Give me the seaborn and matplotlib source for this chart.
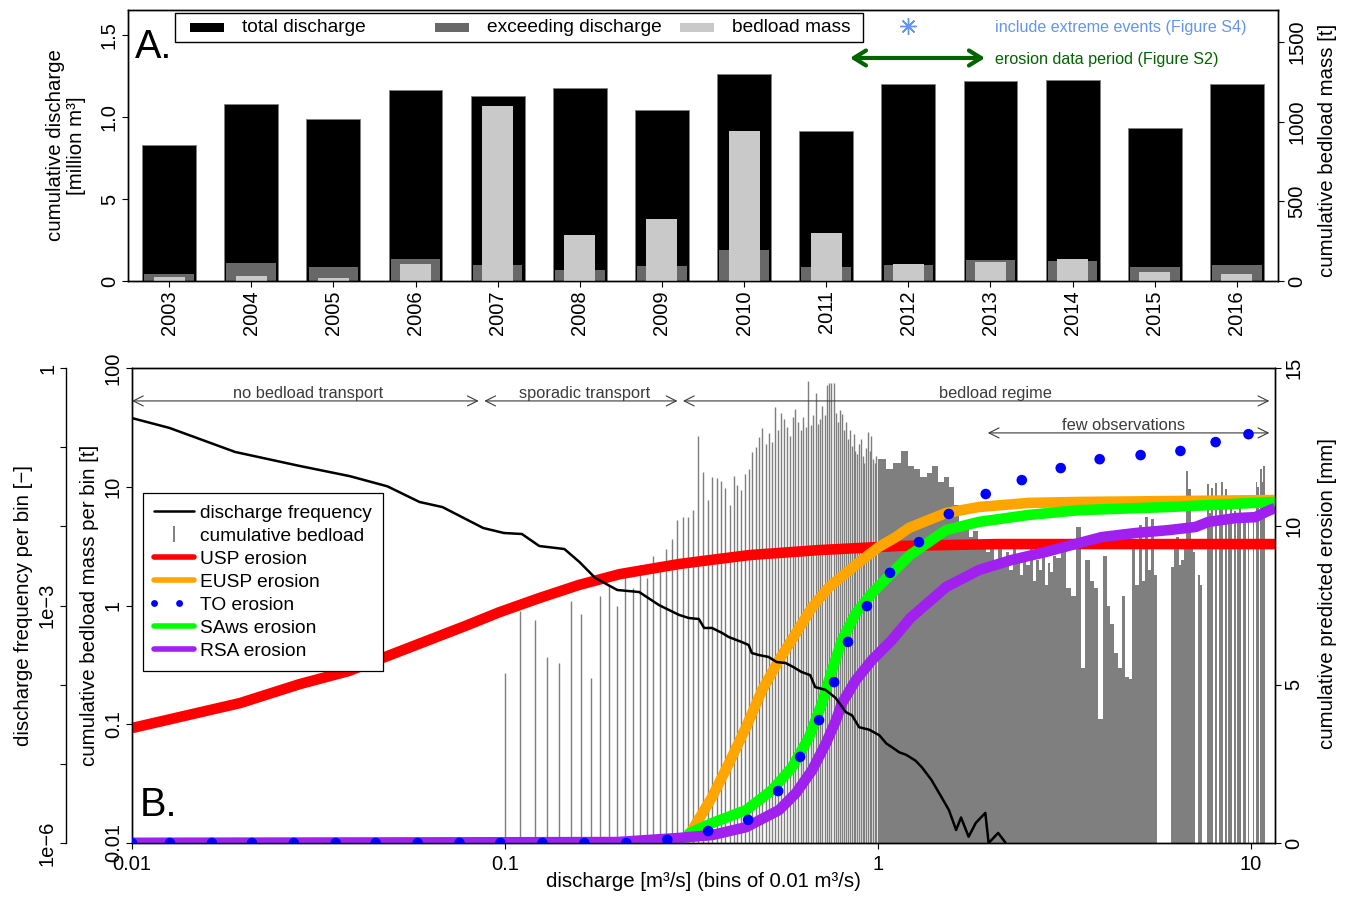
import numpy as np
import matplotlib
matplotlib.use("Agg")
import matplotlib.pyplot as plt
from matplotlib.lines import Line2D
from matplotlib.patches import Rectangle
from matplotlib.ticker import NullLocator
import seaborn as sns

sns.set_style("ticks")
plt.rcParams["font.family"] = ["Liberation Sans", "DejaVu Sans"]
plt.rcParams["font.size"] = 14.5
plt.rcParams["axes.edgecolor"] = "black"
plt.rcParams["axes.linewidth"] = 1.0
for key in ["text.color", "axes.labelcolor", "xtick.color", "ytick.color"]:
    plt.rcParams[key] = "black"

# ---------------- panel A: yearly sums
years = [str(y) for y in range(2003, 2017)]
total_discharge = [0.829, 1.077, 0.990, 1.165, 1.126, 1.179, 1.043, 1.264, 0.916, 1.203, 1.220, 1.224, 0.931, 1.201]
exceeding_discharge = [0.045, 0.108, 0.087, 0.132, 0.098, 0.069, 0.093, 0.187, 0.085, 0.096, 0.128, 0.122, 0.087, 0.099]
bedload_mass = [23, 31, 21, 109, 1097, 287, 389, 940, 299, 109, 119, 140, 55, 42]
extreme_years = ["2007", "2010"]

# ---------------- panel B: discharge bins
# bedload per 0.01 bin, 0.10 ... 0.99 m3/s
fine_q = np.round(np.arange(0.10, 0.995, 0.01), 2)
fine_bedload = [0.27, 0.9, 0.75, 0.37, 0.33, 1.1, 0.85, 0.245, 1.2, 1.5,
                1.0, 1.8, 1.4, 2.2, 1.7, 2.6, 2.0, 3.0, 3.6, 5.2,
                5.6, 5.6, 6.4, 26.7, 13.4, 7.7, 12, 11.8, 11.2, 9.7,
                7.0, 12.2, 10.4, 9.3, 12.8, 14.2, 19.5, 21.7, 26, 31,
                23, 28.5, 24, 47, 30, 41.6, 37, 32, 27, 39,
                45, 35, 30, 39, 32, 78, 33, 40, 61, 34,
                37, 48, 40, 72, 75, 75, 75, 42, 35, 44,
                41, 30, 35, 25, 30, 22, 28, 20, 19, 23,
                25, 18, 16, 21, 29, 20, 26.5, 17, 16, 18]
# coarser reading above 1 m3/s
mid_q = np.round(np.arange(1.0, 2.999, 0.05), 2)
mid_bedload = [17, 14, 16, 20, 15, 14, 12, 13, 15, 11,
               12, 10, 7, 5, 4.5, 3.8, 4.2, 3.0, 3.5, 2.8,
               3.2, 2.4, 3.6, 2.2, 2.8, 2.0, 3.0, 2.5, 1.8, 2.6,
               2.2, 3.2, 1.6, 2.4, 2.0, 2.8, 1.5, 2.3, 1.9, 2.6]
high_q = np.round(np.arange(3.0, 11.15, 0.1), 1)
high_bedload = [2.5, 3.2, 1.4, 1.2, 4.6, 0.3, 2.4, 1.6, 1.4, 0.11,
                2.6, 1.0, 0.7, 0.4, 0.3, 1.2, 0.25, 0.24, 3.0, 1.5,
                4.8, 1.6, 5.6, 2.0, 5.4, 1.8, 0, 0, 0, 0,
                0, 2.1, 3.0, 3.8, 2.2, 2.4, 3.2, 13.5, 9.6, 3.5,
                2.8, 0, 1.8, 1.5, 0, 0, 10.5, 6.0, 9.8, 0,
                10.8, 0, 6.5, 11, 0, 9.6, 0, 5.5, 7, 0,
                6.2, 0, 5.5, 7.5, 0, 6, 5, 0, 5.5, 0,
                0, 6, 0, 11, 10, 0, 14, 11, 15, 0,
                0, 0]

freq_q = [0.01, 0.0126, 0.0189, 0.0281, 0.0384, 0.0484, 0.059, 0.068, 0.0874, 0.0993,
          0.111, 0.1236, 0.1443, 0.1584, 0.1747, 0.200, 0.229, 0.259, 0.293, 0.311,
          0.331, 0.342, 0.359, 0.382, 0.398, 0.431, 0.450, 0.459, 0.479, 0.509,
          0.535, 0.565, 0.593, 0.623, 0.658, 0.679, 0.723, 0.770, 0.820, 0.852,
          0.890, 0.947, 1.008, 1.054, 1.095, 1.14, 1.19, 1.26, 1.31, 1.39,
          1.48, 1.55, 1.62, 1.67, 1.75, 1.83, 1.94, 1.98, 2.1, 2.2, 2.3]
freq = [0.233, 0.175, 0.087, 0.058, 0.043, 0.032, 0.0203, 0.0175, 0.00953, 0.00824,
        0.0080, 0.00564, 0.00517, 0.00354, 0.00222, 0.00157, 0.00148, 0.00101, 7.6e-4, 6.95e-4,
        6.75e-4, 5.2e-4, 5.2e-4, 4.5e-4, 4.0e-4, 3.46e-4, 3.17e-4, 2.51e-4, 2.37e-4, 2.24e-4,
        1.93e-4, 1.88e-4, 1.67e-4, 1.45e-4, 1.32e-4, 9.3e-5, 8.6e-5, 6.8e-5, 4.5e-5, 4.1e-5,
        2.9e-5, 2.7e-5, 2.3e-5, 1.8e-5, 1.6e-5, 1.4e-5, 1.3e-5, 1.1e-5, 9.1e-6, 6.3e-6,
        3.8e-6, 2.6e-6, 1.46e-6, 2.1e-6, 1.2e-6, 1.8e-6, 2.4e-6, 1e-6, 1.34e-6, 1e-6, 4e-7]

usp_q = [0.01, 0.0195, 0.0282, 0.0381, 0.0789, 0.0967, 0.124, 0.158, 0.203, 0.293, 0.45, 0.695, 1.14, 2.11, 11.6]
usp = [3.63, 4.42, 5.02, 5.43, 6.87, 7.29, 7.74, 8.15, 8.49, 8.81, 9.09, 9.25, 9.38, 9.44, 9.44]

eusp_q = [0.01, 0.30, 0.312, 0.359, 0.399, 0.443, 0.489, 0.543, 0.603, 0.666, 0.739,
          0.821, 0.906, 1.006, 1.117, 1.211, 1.521, 1.864, 2.537, 3.453, 11.6]
eusp = [0, 0, 0.25, 1.45, 2.53, 3.66, 4.83, 5.78, 6.63, 7.45, 8.08,
        8.53, 8.94, 9.35, 9.66, 9.95, 10.42, 10.61, 10.74, 10.77, 10.83]

saws_q = [0.01, 0.30, 0.312, 0.359, 0.443, 0.520, 0.589, 0.654, 0.708, 0.753, 0.801,
          0.873, 0.964, 1.090, 1.22, 1.521, 1.864, 2.537, 3.453, 6.01, 11.6]
saws = [0, 0, 0.31, 0.63, 1.04, 1.67, 2.4, 3.35, 4.42, 5.46, 6.41,
        7.26, 7.89, 8.53, 9.1, 9.88, 10.14, 10.36, 10.51, 10.61, 10.77]

rsa_q = [0.01, 0.20, 0.293, 0.359, 0.443, 0.543, 0.603, 0.666, 0.726, 0.772, 0.801,
         0.873, 0.964, 1.090, 1.22, 1.521, 1.864, 2.285, 2.817, 3.453, 3.98, 4.91,
         6.01, 7.10, 7.69, 9.09, 10.28, 10.94, 11.6]
rsa = [0, 0.03, 0.16, 0.25, 0.5, 1.04, 1.58, 2.3, 3.16, 3.88, 4.42,
       5.15, 5.78, 6.41, 7.1, 8.08, 8.62, 8.94, 9.19, 9.47, 9.66, 9.79,
       9.88, 9.98, 10.14, 10.26, 10.29, 10.45, 10.58]

to_q = [0.01, 0.01264, 0.01637, 0.02096, 0.02715, 0.03517, 0.04501, 0.05831, 0.07553, 0.0972,
        0.126, 0.1633, 0.2115, 0.2724, 0.3506, 0.4487, 0.540, 0.6184, 0.695, 0.7625,
        0.831, 0.934, 1.077, 1.288, 1.549, 1.945, 2.43, 3.09, 3.93, 5.06, 6.47, 8.04, 9.85]
to = [0, 0, 0, 0, 0, 0, 0, 0, 0, 0,
      0, 0, 0, 0.1, 0.38, 0.73, 1.64, 2.72, 3.88, 5.08,
      6.35, 7.48, 8.53, 9.5, 10.39, 11.02, 11.46, 11.84, 12.12, 12.25, 12.38, 12.66, 12.91]

# ---------------- figure
W, H = 1348, 899
fig = plt.figure(figsize=(W / 100, H / 100), dpi=100)


def px_box(l, t, r, b):
    return [l / W, 1 - b / H, (r - l) / W, (b - t) / H]


def rotate_ylabels(ax, side="left"):
    ax.tick_params(axis="y", labelrotation=90)
    for t in ax.get_yticklabels():
        t.set_va("center")
        t.set_ha("right" if side == "left" else "left")


GREY_BAR = "#7f7f7f"
TXT = "#3a3a3a"

# ===== panel A
ax_a = fig.add_axes(px_box(128, 10, 1278, 281))
sns.barplot(x=years, y=total_discharge, ax=ax_a, color="black", width=0.655,
            saturation=1, errorbar=None, edgecolor="#808080", linewidth=0.6)
sns.barplot(x=years, y=exceeding_discharge, ax=ax_a, color="#686868", width=0.605,
            saturation=1, errorbar=None, linewidth=0)
ax_a2 = ax_a.twinx()
sns.barplot(x=years, y=bedload_mass, ax=ax_a2, color="#c9c9c9", width=0.378,
            saturation=1, errorbar=None, linewidth=0)

ext_idx = [years.index(y) for y in extreme_years]
ax_a.plot(ext_idx, [0.585] * len(ext_idx), ls="none", marker=(8, 2, 0), ms=12,
          mew=1.0, color="#6495ED", zorder=5)

ax_a.set_xlim(-0.5, 13.5)
ax_a.set_ylim(0, 1.652)
ax_a2.set_ylim(0, 1701)
ax_a.set_yticks([0, 0.5, 1.0, 1.5], labels=["0", "5", "1.0", "1.5"])
ax_a2.set_yticks([0, 500, 1000, 1500])
ax_a.tick_params(axis="x", labelrotation=90, length=4, pad=2.5)
ax_a.tick_params(axis="y", length=4, pad=2.5)
ax_a2.tick_params(axis="y", length=4, pad=2.5)
rotate_ylabels(ax_a, "left")
rotate_ylabels(ax_a2, "right")
ax_a.set_xlabel("")
ax_a.set_ylabel("cumulative discharge\n[million m³]", fontsize=14.7, linespacing=1.12)
ax_a.yaxis.set_label_coords(-0.0365, 0.5)
ax_a2.set_ylabel("cumulative bedload mass [t]", fontsize=14.7)
ax_a2.yaxis.set_label_coords(1.0348, 0.483)

ax_a.text(0.006, 0.823, "A.", transform=ax_a.transAxes, fontsize=28.5, va="baseline", ha="left")

# legend row of panel A
ax_a2.add_patch(Rectangle((0.0409, 0.8819), 0.5982, 0.107, transform=ax_a2.transAxes,
                          facecolor="white", edgecolor="black", lw=1.0, zorder=6))
for x0, col, lab in [(0.0539, "black", "total discharge"),
                     (0.2670, "#686868", "exceeding discharge"),
                     (0.4800, "#c9c9c9", "bedload mass")]:
    ax_a2.add_patch(Rectangle((x0, 0.9170), 0.0296, 0.0332, transform=ax_a2.transAxes,
                              facecolor=col, edgecolor="none", zorder=7))
    ax_a2.text(x0 + 0.0452, 0.9336, lab, transform=ax_a2.transAxes, fontsize=13.8,
               va="center", ha="left", zorder=7)

ax_a2.plot([0.6783], [0.941], transform=ax_a2.transAxes, ls="none", marker=(8, 2, 0),
           ms=12, mew=1.0, color="#6495ED", clip_on=False)
ax_a2.text(0.7539, 0.9336, "include extreme events (Figure S4)", transform=ax_a2.transAxes,
           fontsize=11.6, color="#6495ED", va="center", ha="left")
ax_a2.annotate("", xy=(0.6278, 0.8229), xytext=(0.7452, 0.8229), xycoords="axes fraction",
               textcoords="axes fraction",
               arrowprops=dict(arrowstyle="<->,head_length=0.58,head_width=0.36", lw=3,
                               color="#006400", mutation_scale=15, shrinkA=0, shrinkB=0))
ax_a2.text(0.7539, 0.8155, "erosion data period (Figure S2)", transform=ax_a2.transAxes,
           fontsize=11.6, color="#006400", va="center", ha="left")

# ===== panel B
ax_b = fig.add_axes(px_box(132, 368, 1275, 843))
ax_b.set_xscale("log")
ax_b.set_yscale("log")
ax_b.vlines(fine_q, 0.01, fine_bedload, color=GREY_BAR, lw=1.0)
mid_v = np.array(mid_bedload)
m = mid_v > 0
ax_b.bar(mid_q[m], mid_v[m] - 0.01, width=0.05, bottom=0.01, align="edge",
         color=GREY_BAR, linewidth=0)
high_v = np.array(high_bedload)
m = high_v > 0
ax_b.bar(high_q[m], high_v[m] - 0.01, width=0.1, bottom=0.01, align="edge",
         color=GREY_BAR, linewidth=0)
ax_b.set_xlim(0.01, 11.6)
ax_b.set_ylim(0.01, 100)

ax_e = ax_b.twinx()
for qq, vv, col in [(usp_q, usp, "#FF0000"), (eusp_q, eusp, "#FFA500"),
                    (saws_q, saws, "#00FF00"), (rsa_q, rsa, "#A020F0")]:
    sns.lineplot(x=qq, y=vv, ax=ax_e, color=col, lw=7.6, estimator=None,
                 solid_capstyle="butt", solid_joinstyle="round")
sns.scatterplot(x=to_q, y=to, ax=ax_e, color="#0000FF", s=58, edgecolor="none", zorder=5)
ax_e.set_ylim(0, 15)
ax_e.set_yticks([0, 5, 10, 15])

ax_f = ax_b.twinx()
ax_f.set_yscale("log")
sns.lineplot(x=freq_q, y=freq, ax=ax_f, color="black", lw=1.8, estimator=None)
ax_f.set_ylim(1e-6, 1)
ax_f.yaxis.tick_left()
ax_f.yaxis.set_label_position("left")
ax_f.spines["left"].set_position(("outward", 47.5))
for s in ["right", "top", "bottom"]:
    ax_f.spines[s].set_visible(False)
ax_f.set_yticks([1e-6, 1e-5, 1e-4, 1e-3, 1e-2, 1e-1, 1],
                labels=["1e\u22126", "", "", "1e\u22123", "", "", "1"])

ax_b.set_xticks([0.01, 0.1, 1, 10], labels=["0.01", "0.1", "1", "10"])
ax_b.set_yticks([0.01, 0.1, 1, 10, 100], labels=["0.01", "0.1", "1", "10", "100"])
for ax in (ax_b, ax_f):
    ax.yaxis.set_minor_locator(NullLocator())
ax_b.xaxis.set_minor_locator(NullLocator())
for ax in (ax_b, ax_e, ax_f):
    ax.tick_params(length=4, pad=2.5)
ax_b.tick_params(axis="x", pad=5)
rotate_ylabels(ax_b, "left")
rotate_ylabels(ax_f, "left")
rotate_ylabels(ax_e, "right")

ax_b.set_xlabel("discharge [m³/s] (bins of 0.01 m³/s)", fontsize=14.7)
ax_b.xaxis.set_label_coords(0.4996, -0.062)
ax_b.set_ylabel("cumulative bedload mass per bin [t]", fontsize=14.7)
ax_b.yaxis.set_label_coords(-0.0289, 0.5)
ax_f.set_ylabel("discharge frequency per bin [\u2212]", fontsize=14.7)
ax_f.yaxis.set_label_coords(-0.0866, 0.5)
ax_e.set_ylabel("cumulative predicted erosion [mm]", fontsize=14.7)
ax_e.yaxis.set_label_coords(1.0376, 0.525)
ax_e.set_xlabel("")

# regime arrows
arrow_kw = dict(arrowstyle="<->,head_length=0.6,head_width=0.3", color=TXT, lw=0.8,
                mutation_scale=12, shrinkA=0, shrinkB=0)
for (q0, q1, yy, qt, lab) in [(0.01, 0.085, 13.96, 0.0296, "no bedload transport"),
                              (0.088, 0.29, 13.96, 0.163, "sporadic transport"),
                              (0.30, 11.2, 13.96, 2.07, "bedload regime"),
                              (1.97, 11.2, 12.95, 4.56, "few observations")]:
    ax_e.annotate("", xy=(q0, yy), xytext=(q1, yy), arrowprops=arrow_kw)
    ax_e.text(qt, yy + 0.01, lab, ha="center", va="bottom", fontsize=11.8, color=TXT)

ax_f.text(0.007, 0.057, "B.", transform=ax_f.transAxes, fontsize=28.5, va="baseline", ha="left")

handles = [Line2D([], [], color="black", lw=1.8),
           Line2D([], [], color=GREY_BAR, marker="|", ls="none", ms=11, mew=1.4),
           Line2D([], [], color="#FF0000", lw=4),
           Line2D([], [], color="#FFA500", lw=4),
           Line2D([], [], color="#0000FF", lw=5, ls=(0, (0.01, 3.6)), dash_capstyle="round"),
           Line2D([], [], color="#00FF00", lw=4),
           Line2D([], [], color="#A020F0", lw=4)]
labels = ["discharge frequency", "cumulative bedload", "USP erosion", "EUSP erosion",
          "TO erosion", "SAws erosion", "RSA erosion"]
leg = ax_f.legend(handles, labels, loc="upper left", bbox_to_anchor=(0.0096, 0.7368),
                  borderaxespad=0, fontsize=13.8, frameon=True, fancybox=False,
                  edgecolor="black", framealpha=1, handlelength=2.05, handletextpad=0.3,
                  labelspacing=0.29, borderpad=0.6)
leg.get_frame().set_linewidth(0.9)

fig.savefig("out.png", dpi=100)
